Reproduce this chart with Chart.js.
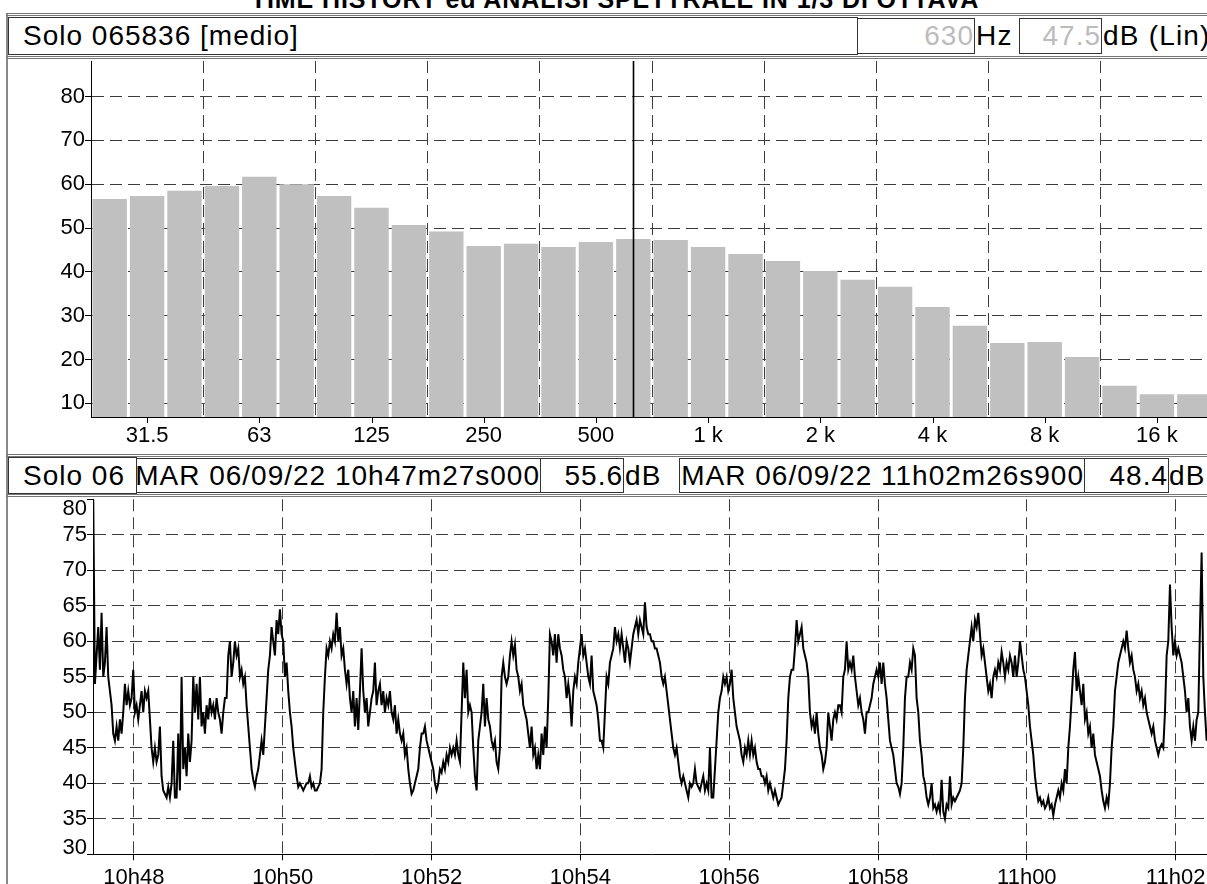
<!DOCTYPE html>
<html>
<head>
<meta charset="utf-8">
<script src="https://cdn.jsdelivr.net/npm/chart.js@4.4.1/dist/chart.umd.min.js"></script>
<style>
html,body{margin:0;padding:0;background:#fff;}
body{width:1207px;height:884px;overflow:hidden;position:relative;font-family:'Liberation Sans',Arial,sans-serif;color:#000;}
#title{position:absolute;left:0;width:1230px;top:-16px;height:30px;line-height:30px;text-align:center;font-weight:bold;font-size:25px;letter-spacing:0.9px;white-space:nowrap;}
.dbl{position:absolute;left:6px;width:1215px;height:0;border-top:3px double #777;}
.vline{position:absolute;left:6px;width:2px;top:13px;height:880px;background:#888;}
.box{position:absolute;box-sizing:border-box;border:1px solid #333;font-size:28px;letter-spacing:1px;white-space:nowrap;overflow:hidden;}
.box.r{display:flex;justify-content:flex-end;}
.txt{position:absolute;font-size:28px;letter-spacing:1.2px;white-space:nowrap;}
.gray{color:#bcbcbc;}
canvas{position:absolute;left:0;}
</style>
</head>
<body>
<canvas id="spec" width="1213" height="395" style="top:56px"></canvas>
<canvas id="hist" width="1209" height="420" style="top:494px"></canvas>

<div id="title">TIME HISTORY ed ANALISI SPETTRALE IN 1/3 DI OTTAVA</div>
<div class="vline"></div>
<div class="dbl" style="top:13px"></div>
<div class="box" id="specName" style="left:8px;top:17px;width:850px;height:38px;line-height:36px;padding-left:14px;"></div>
<div class="box r gray" style="left:857px;top:18px;width:118px;height:36px;line-height:34px;"><span id="curHz"></span></div>
<div class="txt" style="left:976px;top:18px;height:36px;line-height:36px;">Hz</div>
<div class="box r gray" style="left:1019px;top:18px;width:83px;height:36px;line-height:34px;"><span id="curDb"></span></div>
<div class="txt" style="left:1103px;top:18px;height:36px;line-height:36px;">dB (Lin)</div>
<div class="dbl" style="top:56px"></div>

<div class="dbl" style="top:454px"></div>
<div class="box" id="histName" style="left:8px;top:457px;width:129px;height:37px;line-height:35px;padding-left:14px;"></div>
<div class="box r" style="left:136px;top:458px;width:405px;height:35px;line-height:33px;"><span id="startTxt"></span></div>
<div class="box r" style="left:540px;top:458px;width:84px;height:35px;line-height:33px;"><span id="startDb"></span></div>
<div class="txt" style="left:625px;top:458px;height:35px;line-height:35px;">dB</div>
<div class="box r" style="left:679px;top:458px;width:406px;height:35px;line-height:33px;"><span id="endTxt"></span></div>
<div class="box r" style="left:1084px;top:458px;width:85px;height:35px;line-height:33px;"><span id="endDb"></span></div>
<div class="txt" style="left:1169px;top:458px;height:35px;line-height:35px;">dB</div>
<div class="dbl" style="top:494px"></div>

<script>
// ---------------- DATA ----------------
const SPEC_NAME = 'Solo 065836 [medio]';
const HIST_NAME = 'Solo 06';

// 1/3 octave bands (Hz) and levels (dB Lin)
const BAND_HZ = [25, 31.5, 40, 50, 63, 80, 100, 125, 160, 200, 250, 315, 400, 500, 630, 800,
  1000, 1250, 1600, 2000, 2500, 3150, 4000, 5000, 6300, 8000, 10000, 12500, 16000, 20000];
const SPECTRUM_DB = [56.6, 57.3, 58.5, 59.6, 61.7, 60.0, 57.3, 54.6, 50.7, 49.2, 45.9, 46.4, 45.7, 46.8, 47.5, 47.3,
  45.7, 44.1, 42.5, 40.2, 38.2, 36.6, 32.0, 27.7, 23.8, 24.0, 20.6, 14.0, 12.1, 12.1];
const OCTAVE_HZ = [31.5, 63, 125, 250, 500, 1000, 2000, 4000, 8000, 16000];
const OCTAVE_LABELS = ['31.5', '63', '125', '250', '500', '1 k', '2 k', '4 k', '8 k', '16 k'];
const SPEC_Y_TICKS = [10, 20, 30, 40, 50, 60, 70, 80];
const CURSOR_HZ = 630;
const CURSOR_DB = 47.5;

// time history (seconds of day), levels in dB
const START_LABEL = 'MAR 06/09/22 10h47m27s000';
const END_LABEL = 'MAR 06/09/22 11h02m26s900';
const START_DB = 55.6;
const END_DB = 48.4;
const START_S = 10 * 3600 + 47 * 60 + 27.0;
const END_S = 11 * 3600 + 2 * 60 + 26.9;
const FIRST_SAMPLE_S = START_S + 0.2;
const SAMPLE_STEP_S = 1.344;
const TIME_TICKS_S = [38880, 39000, 39120, 39240, 39360, 39480, 39600, 39720]; // 10h48 ... 11h02
const HIST_Y_TICKS = [30, 35, 40, 45, 50, 55, 60, 65, 70, 75, 80];

const LEVEL_SEG_1 = [
  80, 54, 58, 62, 56, 64, 55, 57, 62, 55,
  53, 51, 47, 46, 48, 46, 49, 47, 50, 54,
  51, 53, 51, 52, 56, 50, 51, 49, 51, 53,
  50, 53, 52, 53, 49, 45, 43, 45, 43, 44,
  48, 41, 39, 38.5, 38, 39.5, 38, 40, 46, 38,
  38, 47, 39, 55, 42, 45, 41, 47, 43, 46,
  55, 50, 54, 49, 55, 48, 50, 47, 51, 49,
  52, 50, 51, 49, 52, 50, 49, 47, 50, 52,
  52, 58, 60, 55, 57, 60, 58, 59, 55, 56,
  54, 55, 51, 48, 45, 42, 40.5, 39.5, 41, 42,
  44, 46, 44, 48, 52, 56, 58, 62, 60, 58,
  63, 61, 64.5, 61, 60, 55, 57, 53, 50, 48,
  45, 43, 41, 39.5, 40];
const LEVEL_SEG_2 = [
  39.5, 39, 39.5, 40, 40, 41, 39.5, 40, 39, 39,
  39.5, 40, 42, 50, 55, 59, 58, 60, 59, 61,
  60, 64, 60, 62, 58, 59, 56, 54, 56, 52,
  50, 53, 48, 52, 47.5, 53, 59, 53, 50, 52,
  48, 50, 52, 53, 57, 51, 53, 54, 51, 53,
  50, 52, 51, 53, 50, 49, 51, 47, 49, 47,
  46, 47, 44, 45, 42, 40, 38.5, 39, 40, 41,
  42, 45, 47, 47, 48, 46, 45, 44, 43, 42,
  40, 39, 40, 42, 41.5, 43, 42, 44, 43, 45,
  44, 45, 44, 46, 44, 43, 50, 57, 52, 56,
  50, 51, 50, 45, 41, 39, 46, 48, 50, 54,
  48, 52, 49, 48, 46, 45, 46, 43, 42, 45,
  55, 57, 55, 54, 55, 58, 60, 58, 59.5, 56,
  55, 53, 54, 51, 50, 49, 47, 45, 48, 44,
  45, 42, 44, 42, 47, 44, 48, 45, 52, 61,
  60, 58, 61, 57, 61, 59, 58, 56, 55, 52,
  54, 52, 48, 53, 55, 54, 57, 59, 61, 58,
  59, 57, 55, 54, 58, 53, 52, 51, 49, 46];
const LEVEL_SEG_3 = [
  46, 45, 50, 55, 54, 57, 58, 59, 62, 60,
  61, 59, 61, 59, 57, 60, 59, 57, 59, 61,
  62, 63, 61, 63, 62, 61, 65.5, 62, 61, 61,
  60, 60, 59, 59, 58, 57, 55, 54, 55, 53,
  51, 49, 47, 45, 44, 45, 43, 41, 40, 41,
  40, 39, 38, 40, 39.5, 40, 42, 40, 39.5, 39,
  40, 41, 39, 40, 39, 45, 38, 38, 42, 46,
  50, 52, 53, 55, 54, 55, 53, 54, 56, 52,
  50, 48, 47, 46, 44, 43, 45, 44, 46, 44,
  46, 44, 45, 43, 42, 42, 41, 41, 40, 41,
  39, 40, 39, 38, 39, 38, 37, 37.5, 38, 40,
  42, 46, 52, 55, 56, 56, 59, 63, 60, 61,
  62, 59, 58, 57, 55, 50, 48, 49, 47, 50,
  47, 45, 44, 42, 43, 45, 50, 48, 46, 49,
  50, 49, 51, 51, 50, 55, 56, 60, 56, 57,
  56, 58, 55, 53, 51, 52, 50, 49, 47, 50,
  50, 51, 52, 54, 55, 56, 55, 57, 54, 57,
  54, 52, 49, 46, 45, 44, 42, 40, 39.5, 38.5];
const LEVEL_SEG_4 = [
  40, 45, 52, 55, 55, 57, 56, 59, 58, 52,
  50, 46, 44, 41, 40, 38, 37, 38, 40, 36.5,
  37, 36, 37, 36, 40.5, 36, 35, 37, 36.5, 41,
  37, 38, 37.5, 38, 38.5, 39, 40, 45, 52, 56,
  58, 60, 62, 60, 63, 62, 64, 61, 58, 59,
  57, 55, 53, 54, 52, 55, 56, 55, 57, 56,
  58.5, 57, 55, 57, 56, 58, 57, 55, 58, 55,
  57, 60, 58, 56, 55, 53, 51, 48, 46, 44,
  41, 39, 37.5, 38, 37, 37.5, 36.5, 37, 38, 36.5,
  37, 35.5, 37, 38, 39, 38, 40, 39, 42, 40,
  45, 48, 52, 56, 58.5, 53, 55, 53, 51, 54,
  49, 50, 47, 48, 45, 47, 44, 43, 42, 41,
  39, 37.5, 36.5, 38, 37, 40, 45, 48, 53, 55,
  57, 58, 59, 60, 59, 61.5, 59, 57, 58, 56,
  55, 53, 54, 52, 53, 51, 52, 50, 49, 48,
  47, 48, 46, 45, 44, 45, 45.5, 45, 50, 58,
  60, 68, 62, 58, 60, 58, 59, 58, 57, 55,
  53, 50, 52, 48, 46, 48, 46, 49, 50, 62,
  72.5, 55, 50, 46];

// ---------------- HEADERS ----------------
const fmt1 = v => v.toFixed(1);
document.getElementById('specName').textContent = SPEC_NAME;
document.getElementById('curHz').textContent = String(CURSOR_HZ);
document.getElementById('curDb').textContent = fmt1(CURSOR_DB);
document.getElementById('histName').textContent = HIST_NAME;
document.getElementById('startTxt').textContent = START_LABEL;
document.getElementById('startDb').textContent = fmt1(START_DB);
document.getElementById('endTxt').textContent = END_LABEL;
document.getElementById('endDb').textContent = fmt1(END_DB);

// ---------------- CHARTS ----------------
const FONT_FAMILY = "'Liberation Sans', Arial, sans-serif";
const TICK_FONT = { family: FONT_FAMILY, size: 22 };
const GRID_COLOR = '#3c3c3c';
const DASH = [12, 6];
Chart.defaults.font.family = FONT_FAMILY;

function zeroPad(s) { s.paddingTop = 0; s.paddingBottom = 0; s.paddingLeft = 0; s.paddingRight = 0; }

// --- spectrum ---
const specDecor = {
  id: 'specDecor',
  afterDraw(chart) {
    const { ctx, chartArea, scales: { x } } = chart;
    ctx.save();
    ctx.strokeStyle = '#000';
    ctx.lineWidth = 1;
    OCTAVE_HZ.forEach(hz => {
      const px = Math.round(x.getPixelForValue(BAND_HZ.indexOf(hz))) + 0.5;
      ctx.beginPath();
      ctx.moveTo(px, chartArea.bottom);
      ctx.lineTo(px, chartArea.bottom + 6);
      ctx.stroke();
    });
    const cx = Math.round(x.getPixelForValue(BAND_HZ.indexOf(CURSOR_HZ))) + 0.5;
    ctx.lineWidth = 1.6;
    ctx.beginPath();
    ctx.moveTo(cx, chartArea.top);
    ctx.lineTo(cx, chartArea.bottom);
    ctx.stroke();
    ctx.restore();
  }
};

new Chart(document.getElementById('spec'), {
  type: 'bar',
  data: {
    labels: BAND_HZ.map(String),
    datasets: [{
      data: SPECTRUM_DB,
      backgroundColor: '#c0c0c0',
      borderWidth: 0,
      barPercentage: 0.92,
      categoryPercentage: 1
    }]
  },
  options: {
    responsive: false,
    animation: false,
    devicePixelRatio: 1,
    layout: { padding: { top: 5, left: 0, right: 0, bottom: 0 } },
    plugins: { legend: { display: false }, tooltip: { enabled: false }, title: { display: false } },
    scales: {
      x: {
        type: 'category',
        offset: true,
        z: 1,
        grid: {
          offset: true,
          drawTicks: false,
          lineWidth: 1,
          color: c => (c.index % 3 === 0 && c.index > 0 && c.index < BAND_HZ.length) ? GRID_COLOR : 'rgba(0,0,0,0)'
        },
        border: { display: true, color: '#000', width: 1, dash: DASH },
        ticks: {
          autoSkip: false, maxRotation: 0, minRotation: 0, padding: 6,
          color: '#000', font: TICK_FONT,
          callback: (v, i) => { const k = OCTAVE_HZ.indexOf(BAND_HZ[i]); return k >= 0 ? OCTAVE_LABELS[k] : ''; }
        },
        afterFit: s => { s.height = 34; zeroPad(s); }
      },
      y: {
        min: 6.9, max: 88.1,
        z: 1,
        afterBuildTicks: s => { s.ticks = SPEC_Y_TICKS.map(v => ({ value: v })); },
        grid: { color: GRID_COLOR, lineWidth: 1, tickColor: '#000', tickLength: 6, tickWidth: 1 },
        border: { display: true, color: '#000', width: 1, dash: DASH },
        ticks: { padding: 0, color: '#000', font: TICK_FONT },
        afterFit: s => { s.width = 91; zeroPad(s); }
      }
    }
  },
  plugins: [specDecor]
});

// --- time history ---
const LEVELS_DB = [].concat(LEVEL_SEG_1, LEVEL_SEG_2, LEVEL_SEG_3, LEVEL_SEG_4);
const historyPoints = LEVELS_DB.map((v, i) => ({ x: FIRST_SAMPLE_S + i * SAMPLE_STEP_S, y: v }));
const fmtTime = v => { const h = Math.floor(v / 3600); const m = Math.round((v - h * 3600) / 60); return h + 'h' + String(m).padStart(2, '0'); };
const Y_MIN = HIST_Y_TICKS[0], Y_MAX = HIST_Y_TICKS[HIST_Y_TICKS.length - 1];

const histDecor = {
  id: 'histDecor',
  afterDraw(chart) {
    const { ctx, chartArea } = chart;
    ctx.save();
    ctx.fillStyle = '#000';
    ctx.font = '22px ' + FONT_FAMILY;
    ctx.textAlign = 'right';
    const x = chartArea.left - 6;
    ctx.textBaseline = 'top';
    ctx.fillText(String(Y_MAX), x, chartArea.top - 1);
    ctx.textBaseline = 'alphabetic';
    ctx.fillText(String(Y_MIN), x, chartArea.bottom);
    ctx.restore();
  }
};

new Chart(document.getElementById('hist'), {
  type: 'line',
  data: {
    datasets: [{
      data: historyPoints,
      borderColor: '#000',
      borderWidth: 2,
      pointRadius: 0,
      tension: 0,
      fill: false
    }]
  },
  options: {
    responsive: false,
    animation: false,
    devicePixelRatio: 1,
    parsing: false,
    normalized: true,
    layout: { padding: { top: 5.3, left: 0, right: 0, bottom: 0 } },
    plugins: { legend: { display: false }, tooltip: { enabled: false }, title: { display: false } },
    scales: {
      x: {
        type: 'linear',
        min: START_S, max: END_S,
        afterBuildTicks: s => { s.ticks = TIME_TICKS_S.map(v => ({ value: v })); },
        grid: { color: GRID_COLOR, lineWidth: 1, tickColor: '#000', tickLength: 6, tickWidth: 1 },
        border: { display: true, color: '#000', width: 1, dash: DASH },
        ticks: { padding: 4, color: '#000', font: TICK_FONT, maxRotation: 0, autoSkip: false, callback: v => fmtTime(v) },
        afterFit: s => { s.height = 59.7; zeroPad(s); }
      },
      y: {
        min: Y_MIN, max: Y_MAX,
        afterBuildTicks: s => { s.ticks = HIST_Y_TICKS.map(v => ({ value: v })); },
        grid: {
          lineWidth: 1, tickColor: '#000', tickLength: 6, tickWidth: 1,
          color: c => (c.tick && (c.tick.value === Y_MIN || c.tick.value === Y_MAX)) ? 'rgba(0,0,0,0)' : GRID_COLOR
        },
        border: { display: true, color: '#000', width: 1, dash: DASH },
        ticks: { padding: 0, color: '#000', font: TICK_FONT, callback: v => (v === Y_MIN || v === Y_MAX) ? '' : String(v) },
        afterFit: s => { s.width = 93; zeroPad(s); }
      }
    }
  },
  plugins: [histDecor]
});
</script>
</body>
</html>
